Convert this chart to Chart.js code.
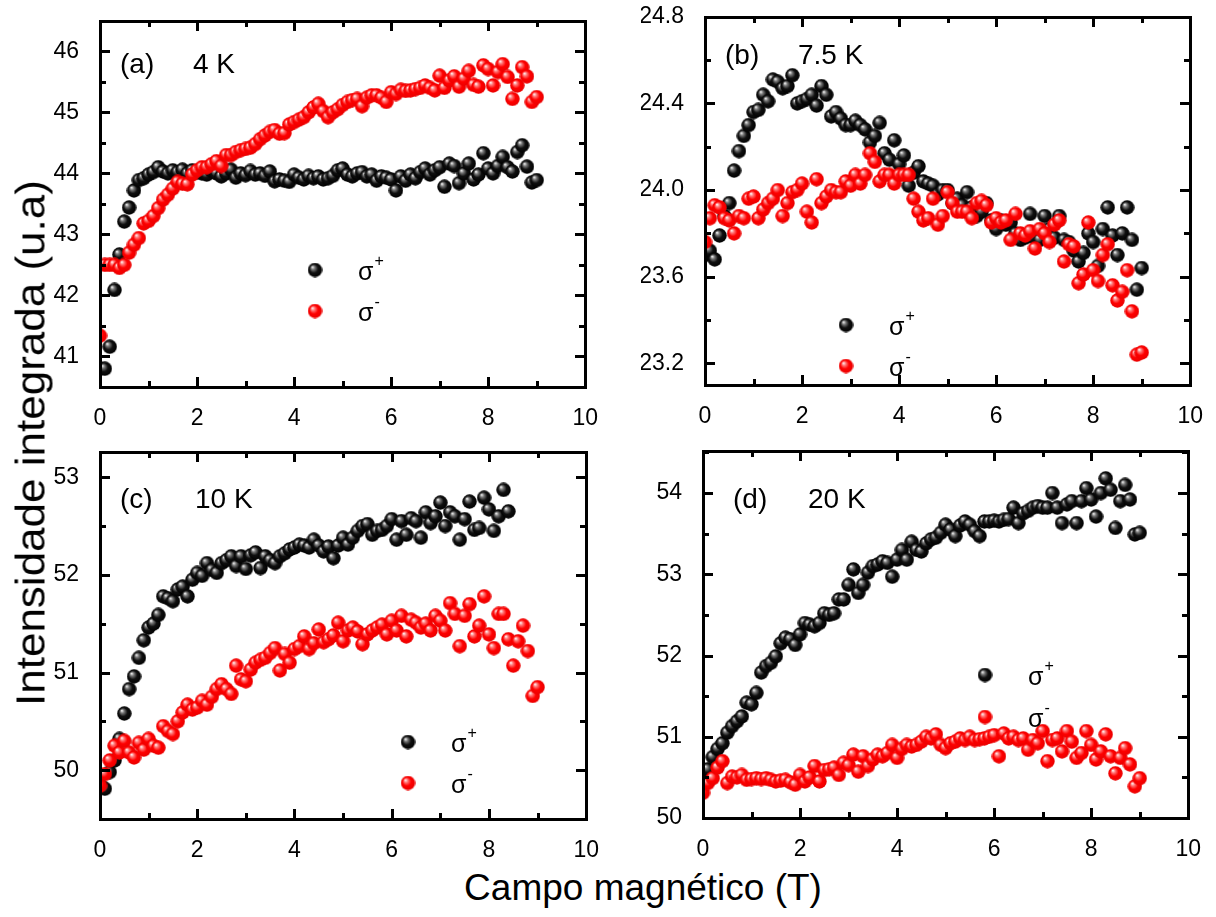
<!DOCTYPE html>
<html>
<head>
<meta charset="utf-8">
<script src="https://cdn.jsdelivr.net/npm/chart.js@4.4.0/dist/chart.umd.min.js"></script>
<style>
body{margin:0;background:#fff;}
#page{position:relative;width:1216px;height:917px;overflow:hidden;font-family:"Liberation Sans",Arial,sans-serif;color:#000;}
canvas{position:absolute;}
#ytitle{position:absolute;left:31px;top:443px;font-size:40px;white-space:nowrap;transform:translate(-50%,-50%) rotate(-90deg) scaleX(1.1);}
#xtitle{position:absolute;left:643px;top:888px;font-size:37px;white-space:nowrap;transform:translate(-50%,-50%);}
</style>
</head>
<body>
<div id="page">
<canvas id="chartA"></canvas>
<canvas id="chartB"></canvas>
<canvas id="chartC"></canvas>
<canvas id="chartD"></canvas>
<div id="ytitle">Intensidade integrada (u.a)</div>
<div id="xtitle">Campo magnético (T)</div>
</div>
<script>
// campo magnetico (T), same steps for every panel
var campo = [0.0,0.1,0.2,0.3,0.4,0.5,0.6,0.7,0.8,0.9,1.0,1.1,1.2,1.3,1.4,1.5,1.6,1.7,1.8,1.9,
  2.0,2.1,2.2,2.3,2.4,2.5,2.6,2.7,2.8,2.9,3.0,3.1,3.2,3.3,3.4,3.5,3.6,3.7,3.8,3.9,
  4.0,4.1,4.2,4.3,4.4,4.5,4.6,4.7,4.8,4.9,5.0,5.1,5.2,5.3,5.4,5.5,5.6,5.7,5.8,5.9,
  6.0,6.1,6.2,6.3,6.4,6.5,6.6,6.7,6.8,6.9,7.0,7.1,7.2,7.3,7.4,7.5,7.6,7.7,7.8,7.9,
  8.0,8.1,8.2,8.3,8.4,8.5,8.6,8.7,8.8,8.9,9.0];

// (a) 4 K
var maisA = [40.80,40.80,41.16,42.09,42.67,43.21,43.44,43.72,43.89,43.92,43.98,44.02,44.10,44.03,44.00,44.05,44.02,44.06,44.00,44.05,
  44.02,44.00,43.98,44.04,44.00,43.95,44.00,44.06,43.93,44.00,43.97,44.04,43.98,44.00,43.96,44.03,43.87,43.90,43.88,43.86,
  43.98,43.93,43.90,43.96,43.92,43.95,43.90,43.92,43.96,44.05,44.08,43.98,43.95,44.00,44.02,43.95,43.98,43.88,43.95,43.93,
  43.90,43.72,43.95,43.88,43.98,43.92,44.02,44.08,43.98,44.05,44.10,43.78,44.16,44.12,43.84,44.00,44.16,43.90,43.98,44.33,
  44.08,44.00,44.12,44.27,44.10,44.03,44.35,44.46,44.11,43.85,43.89];
var menosA = [41.34,42.50,42.50,42.50,42.45,42.50,42.70,42.83,42.94,43.18,43.22,43.30,43.43,43.57,43.65,43.75,43.86,43.83,43.82,43.98,
  44.05,44.10,44.10,44.15,44.20,44.12,44.30,44.30,44.35,44.38,44.40,44.42,44.48,44.56,44.62,44.68,44.71,44.65,44.66,44.80,
  44.84,44.88,44.92,45.00,45.08,45.14,45.02,44.92,45.00,45.05,45.12,45.17,45.20,45.22,45.10,45.24,45.28,45.28,45.24,45.17,
  45.33,45.30,45.37,45.35,45.36,45.38,45.40,45.44,45.40,45.36,45.60,45.40,45.52,45.59,45.42,45.55,45.68,45.45,45.42,45.77,
  45.71,45.44,45.66,45.79,45.58,45.22,45.44,45.74,45.59,45.17,45.25];

// (b) 7.5 K
var maisB = [23.70,23.72,23.68,23.79,23.88,23.94,24.09,24.18,24.25,24.30,24.36,24.37,24.44,24.41,24.51,24.50,24.47,24.48,24.53,24.40,
  24.41,24.42,24.44,24.39,24.48,24.44,24.34,24.36,24.33,24.30,24.30,24.32,24.30,24.28,24.22,24.25,24.31,24.17,24.14,24.23,
  24.12,24.16,24.02,24.08,24.11,24.04,24.03,24.02,23.98,24.00,24.00,23.94,23.96,23.93,23.99,23.92,23.88,23.90,23.94,23.86,
  23.82,23.86,23.84,23.85,23.80,23.77,23.78,23.89,23.78,23.77,23.88,23.82,23.78,23.88,23.77,23.76,23.72,23.67,23.71,23.80,
  23.76,23.65,23.82,23.92,23.79,23.70,23.80,23.92,23.77,23.54,23.64];
var menosB = [23.76,23.87,23.93,23.92,23.87,23.86,23.80,23.88,23.87,23.96,23.97,23.87,23.91,23.94,23.96,24.00,23.88,23.94,23.99,24.00,
  24.03,23.90,23.85,24.05,23.94,23.97,24.00,23.99,23.99,24.04,24.02,24.07,24.03,24.07,24.17,24.13,24.04,24.07,24.07,24.03,
  24.07,24.07,24.07,23.96,23.90,23.86,23.87,23.96,23.84,23.88,23.99,23.94,23.90,23.90,23.90,23.87,23.94,23.95,23.93,23.85,
  23.87,23.85,23.86,23.77,23.89,23.80,23.79,23.81,23.73,23.82,23.80,23.76,23.84,23.86,23.67,23.75,23.74,23.57,23.61,23.85,
  23.63,23.58,23.70,23.75,23.56,23.49,23.53,23.63,23.44,23.24,23.25];

// (c) 10 K  (sigma+ stops at 8.4 T)
var maisC = [49.85,49.81,49.98,50.10,50.32,50.58,50.83,50.96,51.15,51.33,51.46,51.50,51.59,51.78,51.76,51.73,51.85,51.88,51.78,51.95,
  52.02,51.99,52.12,52.05,52.02,52.12,52.15,52.19,52.09,52.19,52.06,52.20,52.23,52.07,52.19,52.15,52.12,52.19,52.22,52.26,
  52.28,52.31,52.30,52.28,52.36,52.30,52.24,52.29,52.17,52.30,52.38,52.31,52.38,52.45,52.50,52.52,52.41,52.45,52.46,52.50,
  52.57,52.36,52.55,52.41,52.58,52.55,52.38,52.64,52.53,52.60,52.74,52.50,52.64,52.60,52.36,52.57,52.75,52.46,52.48,52.79,
  52.67,52.45,52.60,52.87,52.65];
var menosC = [49.84,49.96,50.10,50.25,50.18,50.30,50.18,50.13,50.28,50.21,50.32,50.25,50.23,50.45,50.40,50.37,50.50,50.59,50.67,50.62,
  50.64,50.71,50.67,50.75,50.83,50.88,50.83,50.78,51.07,50.93,50.91,51.03,51.10,51.13,51.15,51.20,51.25,51.02,51.19,51.10,
  51.24,51.27,51.37,51.24,51.30,51.44,51.31,51.34,51.38,51.51,51.32,51.43,51.46,51.42,51.29,51.39,51.43,51.46,51.49,51.39,
  51.53,51.43,51.58,51.37,51.54,51.51,51.46,51.50,51.43,51.58,51.53,51.43,51.71,51.60,51.27,51.58,51.70,51.37,51.48,51.78,
  51.39,51.25,51.60,51.60,51.34,51.07,51.32,51.48,51.22,50.76,50.85];

// (d) 20 K
var maisD = [50.55,50.60,50.75,50.85,50.92,51.05,51.13,51.19,51.25,51.42,51.40,51.54,51.79,51.87,51.91,51.99,52.15,52.22,52.20,52.13,
  52.26,52.40,52.38,52.36,52.40,52.52,52.50,52.52,52.69,52.69,52.87,53.06,52.77,52.87,53.02,53.10,53.12,53.16,53.14,52.97,
  53.18,53.30,53.18,53.40,53.30,53.28,53.38,53.43,53.45,53.51,53.61,53.55,53.47,53.60,53.65,53.61,53.53,53.47,53.65,53.65,
  53.66,53.65,53.67,53.68,53.82,53.63,53.75,53.78,53.82,53.84,53.82,53.82,54.00,53.82,53.63,53.86,53.90,53.63,53.90,54.06,
  53.92,53.71,54.00,54.18,54.04,53.57,53.90,54.10,53.92,53.49,53.51];
var menosD = [50.31,50.43,50.49,50.62,50.70,50.43,50.51,50.50,50.53,50.47,50.48,50.49,50.48,50.49,50.47,50.45,50.46,50.47,50.44,50.41,
  50.53,50.45,50.50,50.64,50.45,50.59,50.60,50.62,50.53,50.68,50.65,50.78,50.57,50.76,50.64,50.72,50.78,50.76,50.80,50.90,
  50.74,50.85,50.90,50.88,50.90,50.94,51.00,50.98,51.03,50.90,50.86,50.92,50.94,50.98,50.96,51.00,50.96,50.97,50.98,51.00,
  51.02,50.76,51.04,50.98,51.00,50.96,50.98,50.84,50.96,50.92,51.07,50.70,50.96,50.98,50.82,51.07,50.94,50.74,50.80,51.07,
  50.90,50.72,50.82,51.03,50.76,50.55,50.74,50.86,50.66,50.39,50.49];

// tick labels
var ticksX = [0,2,4,6,8,10];
var ticksYA = [41,42,43,44,45,46];
var ticksYB = [23.2,23.6,24.0,24.4,24.8];
var ticksYC = [50,51,52,53];
var ticksYD = [50,51,52,53,54];

var FONT = '"Liberation Sans", Arial, sans-serif';
var PL = 64, PB = 44;

function makeBall(c0, c1, c2, c3) {
    var d = 15, r = d / 2;
    var cv = document.createElement('canvas');
    cv.width = d; cv.height = d;
    var g = cv.getContext('2d');
    var grd = g.createRadialGradient(r - 2.6, r - 3, 0.3, r, r, r);
    grd.addColorStop(0, c0);
    grd.addColorStop(0.22, c1);
    grd.addColorStop(0.55, c2);
    grd.addColorStop(1, c3);
    g.fillStyle = grd;
    g.beginPath(); g.arc(r, r, r - 0.3, 0, Math.PI * 2); g.fill();
    return cv;
}
var ballBlack = makeBall('#f4f4f4', '#7a7a7a', '#101010', '#000000');
var ballRed = makeBall('#fff4f4', '#ff7a7a', '#ff0000', '#e80000');

// frame and inward ticks on all four sides
var frameTicks = {
    id: 'frameTicks',
    afterDraw: function(chart) {
        var ctx = chart.ctx, a = chart.chartArea;
        var xs = chart.scales.x, ys = chart.scales.y;
        var L = Math.round(a.left), R = Math.round(a.right), T = Math.round(a.top), B = Math.round(a.bottom);
        var ty = chart.options.plugins.panelDeco.ticksY;
        var xt = [], yt = [], i, p, v;
        for (i = 0; i < ticksX.length; i++) {
            xt.push([ticksX[i], 10]);
            if (i < ticksX.length - 1) xt.push([(ticksX[i] + ticksX[i + 1]) / 2, 6]);
        }
        var sy = ty[1] - ty[0];
        for (i = 0; i < ty.length; i++) {
            yt.push([ty[i], 10]);
            v = ty[i] - sy / 2;
            if (v > ys.min + 0.01) yt.push([v, 6]);
        }
        v = ty[ty.length - 1] + sy / 2;
        if (v < ys.max - 0.01) yt.push([v, 6]);

        ctx.save();
        ctx.fillStyle = '#000000';
        ctx.fillRect(L - 1, T - 1, R - L + 3, 3);
        ctx.fillRect(L - 1, B - 1, R - L + 3, 3);
        ctx.fillRect(L - 1, T - 1, 3, B - T + 3);
        ctx.fillRect(R - 1, T - 1, 3, B - T + 3);
        for (i = 0; i < xt.length; i++) {
            p = Math.round(xs.getPixelForValue(xt[i][0]));
            ctx.fillRect(p - 1, B - xt[i][1], 3, xt[i][1]);
            ctx.fillRect(p - 1, T, 3, xt[i][1]);
        }
        for (i = 0; i < yt.length; i++) {
            p = Math.round(ys.getPixelForValue(yt[i][0]));
            ctx.fillRect(L, p - 1, yt[i][1], 3);
            ctx.fillRect(R - yt[i][1], p - 1, yt[i][1], 3);
        }
        ctx.restore();
    }
};

// panel label and legend
var panelDeco = {
    id: 'panelDeco',
    afterDatasetsDraw: function(chart) {
        var o = chart.options.plugins.panelDeco;
        var ctx = chart.ctx, a = chart.chartArea;
        var L = Math.round(a.left), T = Math.round(a.top);
        ctx.save();
        ctx.fillStyle = '#000';
        ctx.textBaseline = 'alphabetic';
        ctx.textAlign = 'left';
        ctx.font = '28px ' + FONT;
        ctx.fillText(o.tag, L + o.tagPos[0], T + o.tagPos[1]);
        ctx.fillText(o.temp, L + o.tagPos[2], T + o.tagPos[1]);
        var lg = o.legend;
        var rows = [[ballBlack, '+', lg[1]], [ballRed, '-', lg[2]]];
        for (var i = 0; i < rows.length; i++) {
            var bx = L + lg[0], by = T + rows[i][2];
            ctx.drawImage(rows[i][0], bx - 7.5, by - 7.5);
            ctx.font = '25px ' + FONT;
            ctx.fillText('\u03c3', bx + 43, by + 10);
            var w = ctx.measureText('\u03c3').width;
            ctx.font = '16px ' + FONT;
            ctx.fillText(rows[i][1], bx + 43 + w + 1, by - 4);
        }
        ctx.restore();
    }
};

function panelConfig(yMin, yMax, ticksY, dec, mais, menos, deco) {
    var tickFont = {family: FONT, size: 23};
    return {
        type: 'scatter',
        data: {
            datasets: [{
                label: '\u03c3+',
                data: mais.map(function(v, i) { return {x: campo[i], y: v}; }),
                pointStyle: ballBlack,
                order: 2,
                clip: 0
            }, {
                label: '\u03c3-',
                data: menos.map(function(v, i) { return {x: campo[i], y: v}; }),
                pointStyle: ballRed,
                order: 1,
                clip: 0
            }]
        },
        options: {
            responsive: false,
            maintainAspectRatio: false,
            animation: false,
            layout: {padding: {top: 4, right: 4, left: 0, bottom: 0}},
            plugins: {legend: {display: false}, tooltip: {enabled: false}, panelDeco: deco},
            scales: {
                x: {
                    type: 'linear', min: 0, max: 10,
                    grid: {display: false},
                    border: {display: false},
                    afterBuildTicks: function(s) { s.ticks = ticksX.map(function(v) { return {value: v}; }); },
                    afterFit: function(s) { s.height = PB; },
                    ticks: {font: tickFont, color: '#000', padding: 10, maxRotation: 0}
                },
                y: {
                    type: 'linear', min: yMin, max: yMax,
                    grid: {display: false},
                    border: {display: false},
                    afterBuildTicks: function(s) { s.ticks = ticksY.map(function(v) { return {value: v}; }); },
                    afterFit: function(s) { s.width = PL; },
                    ticks: {font: tickFont, color: '#000', padding: 13,
                        callback: function(v) { return v.toFixed(dec); }}
                }
            }
        },
        plugins: [panelDeco, frameTicks]
    };
}

// box = plot area on the page: left, top, right, bottom
function drawPanel(id, box, yMin, yMax, ticksY, dec, mais, menos, deco) {
    var cv = document.getElementById(id);
    var w = box[2] - box[0], h = box[3] - box[1];
    deco.ticksY = ticksY;
    cv.width = w + 100; cv.height = h + 80;
    var ch = new Chart(cv, panelConfig(yMin, yMax, ticksY, dec, mais, menos, deco));
    var a = ch.chartArea;
    var cw = w + 100 + (w - (a.right - a.left));
    var chh = h + 80 + (h - (a.bottom - a.top));
    ch.destroy();
    cv.width = cw; cv.height = chh;
    ch = new Chart(cv, panelConfig(yMin, yMax, ticksY, dec, mais, menos, deco));
    a = ch.chartArea;
    cv.style.left = (box[0] - a.left) + 'px';
    cv.style.top = (box[1] - a.top) + 'px';
    return ch;
}

drawPanel('chartA', [100, 21, 586, 388], 40.5, 46.5, ticksYA, 0, maisA, menosA,
    {tag: '(a)', temp: '4 K', tagPos: [20, 52, 93], legend: [215, 249, 290]});
drawPanel('chartB', [705, 17, 1191, 386], 23.1, 24.8, ticksYB, 1, maisB, menosB,
    {tag: '(b)', temp: '7.5 K', tagPos: [20, 47, 93], legend: [141, 308, 349]});
drawPanel('chartC', [100, 452, 587, 820], 49.5, 53.26, ticksYC, 0, maisC, menosC,
    {tag: '(c)', temp: '10 K', tagPos: [20, 56, 95], legend: [308, 290, 331]});
drawPanel('chartD', [703, 451, 1189, 819], 50, 54.52, ticksYD, 0, maisD, menosD,
    {tag: '(d)', temp: '20 K', tagPos: [30, 57, 105], legend: [282, 224, 266]});
</script>
</body>
</html>
